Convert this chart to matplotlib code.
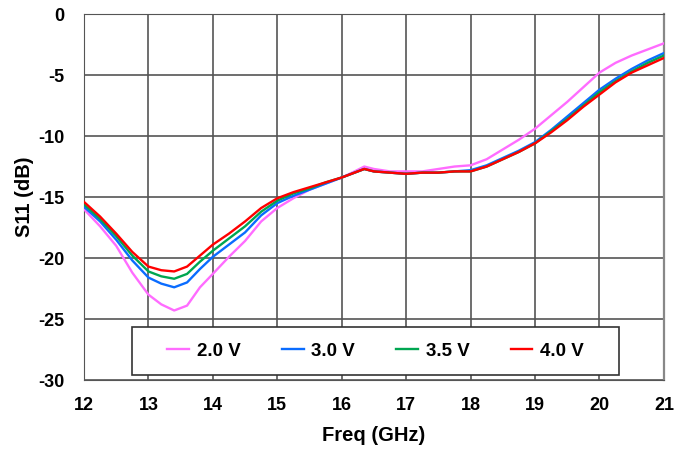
import matplotlib

matplotlib.use("Agg")
import matplotlib.pyplot as plt
from matplotlib.patches import Rectangle

plt.rcParams["font.family"] = ["Liberation Sans", "DejaVu Sans"]
plt.rcParams["axes.unicode_minus"] = False

freq_ghz = [12.0, 12.25, 12.5, 12.75, 13.0, 13.2, 13.4, 13.6, 13.8, 14.0,
            14.25, 14.5, 14.75, 15.0, 15.25, 15.5, 15.75, 16.0, 16.2, 16.35,
            16.5, 16.75, 17.0, 17.25, 17.5, 17.75, 18.0, 18.25, 18.5, 18.75,
            19.0, 19.25, 19.5, 19.75, 20.0, 20.25, 20.5, 20.75, 21.0]

s11_2v0 = [-16.0, -17.4, -19.0, -21.2, -23.0, -23.8, -24.3, -23.9, -22.4, -21.3,
           -19.9, -18.6, -17.0, -15.9, -15.1, -14.4, -13.9, -13.4, -12.9, -12.5,
           -12.7, -12.9, -12.9, -12.9, -12.7, -12.5, -12.4, -11.9, -11.1, -10.3,
           -9.4, -8.3, -7.2, -6.0, -4.8, -4.0, -3.4, -2.9, -2.4]

s11_3v0 = [-15.8, -17.0, -18.5, -20.2, -21.6, -22.1, -22.4, -22.0, -20.9, -19.9,
           -18.9, -17.9, -16.5, -15.5, -14.9, -14.4, -13.9, -13.4, -13.0, -12.7,
           -12.9, -13.0, -13.1, -13.0, -13.0, -12.9, -12.8, -12.4, -11.8, -11.2,
           -10.5, -9.5, -8.4, -7.3, -6.2, -5.3, -4.5, -3.8, -3.2]

s11_3v5 = [-15.6, -16.8, -18.2, -19.8, -21.1, -21.5, -21.7, -21.3, -20.3, -19.4,
           -18.4, -17.4, -16.2, -15.3, -14.7, -14.3, -13.8, -13.4, -13.0, -12.7,
           -12.9, -13.0, -13.1, -13.0, -13.0, -12.9, -12.9, -12.5, -11.9, -11.3,
           -10.6, -9.6, -8.6, -7.5, -6.4, -5.5, -4.7, -4.0, -3.4]

s11_4v0 = [-15.4, -16.6, -18.0, -19.5, -20.7, -21.0, -21.1, -20.7, -19.8, -18.9,
           -18.0, -17.0, -15.9, -15.1, -14.6, -14.2, -13.8, -13.4, -13.0, -12.7,
           -12.9, -13.0, -13.1, -13.0, -13.0, -12.9, -12.9, -12.5, -11.9, -11.3,
           -10.6, -9.7, -8.7, -7.6, -6.6, -5.6, -4.8, -4.2, -3.6]

labels = ["2.0 V", "3.0 V", "3.5 V", "4.0 V"]
colors = ["#ff6cff", "#0a6cff", "#00a651", "#ff0000"]
series = [s11_2v0, s11_3v0, s11_3v5, s11_4v0]

fig = plt.figure(figsize=(6.74, 4.53), dpi=100)
ax = fig.add_axes([0.1246, 0.1611, 0.8604, 0.8079])

for values, label, color in zip(series, labels, colors):
    ax.plot(freq_ghz, values, color=color, linewidth=1.7, label=label, zorder=3)

ax.set_xlim(12, 21)
ax.set_ylim(-30, 0)
ax.set_xticks(range(12, 22))
ax.set_yticks(range(-30, 1, 5))
ax.grid(True, color="#555555", linewidth=1.2)
ax.set_axisbelow(True)
ax.tick_params(axis="y", length=0, pad=14, labelsize=13)
ax.tick_params(axis="x", length=0, pad=12, labelsize=13)
for tick in ax.get_xticklabels() + ax.get_yticklabels():
    tick.set_fontweight("bold")
for side in ["left", "bottom", "top"]:
    ax.spines[side].set_color("#555555")
ax.spines["right"].set_color("#888888")
ax.spines["right"].set_linewidth(1.6)

ax.set_xlabel("Freq (GHz)", fontsize=14.5, fontweight="bold", labelpad=9)
ax.set_ylabel("S11 (dB)", fontsize=14.5, fontweight="bold", labelpad=3)

# legend box drawn as a patch so it can be wider than the legend content
ax.add_patch(Rectangle((0.0828, 0.0137), 0.8397, 0.1311, transform=ax.transAxes,
                       facecolor="white", edgecolor="#333333", linewidth=1.2,
                       zorder=4))
leg = ax.legend(loc="center", bbox_to_anchor=(0.5026, 0.0792), ncol=4,
                frameon=False, prop={"weight": "bold", "size": 13.5},
                handlelength=1.17, handletextpad=0.4, columnspacing=2.2,
                borderaxespad=0)
leg.set_zorder(5)

fig.savefig("out.png", dpi=100)
